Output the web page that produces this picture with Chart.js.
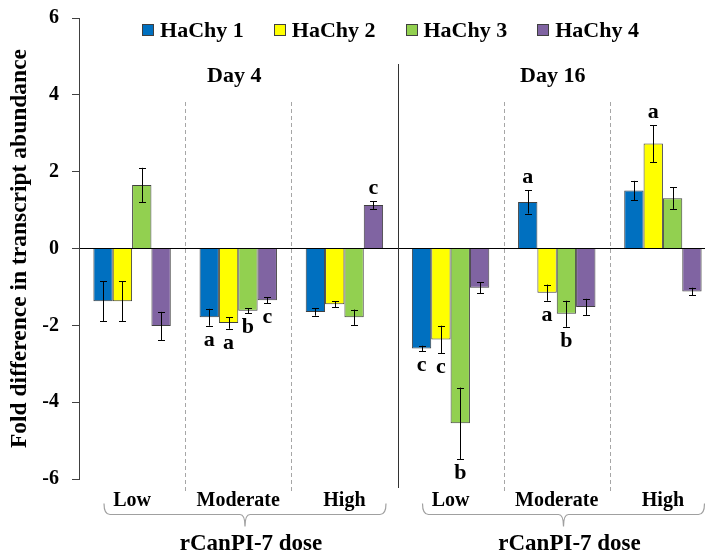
<!DOCTYPE html>
<html>
<head>
<meta charset="utf-8">
<script src="https://cdn.jsdelivr.net/npm/chart.js@4/dist/chart.umd.min.js"></script>
<style>
  html, body { margin: 0; padding: 0; background: #fff; overflow: hidden; }
  #wrap { width: 705px; height: 554px; overflow: hidden; }
  #chart { display: block; margin-top: -7px; }
</style>
</head>
<body>
<div id="wrap"><canvas id="chart" width="720" height="561"></canvas></div>
<script>
const categories = ["Low", "Moderate", "High", "Low", "Moderate", "High"];
const dayLabels = ["Day 4", "Day 16"];
const doseLabel = "rCanPI-7 dose";
const seriesNames = ["HaChy 1", "HaChy 2", "HaChy 3", "HaChy 4"];
const yTicks = [-6, -4, -2, 0, 2, 4, 6];

const hachy1 = [-1.37, -1.79, -1.65, -2.60, 1.21, 1.51];
const hachy2 = [-1.37, -1.94, -1.45, -2.37, -1.15, 2.73];
const hachy3 = [1.65, -1.62, -1.79, -4.55, -1.70, 1.31];
const hachy4 = [-2.02, -1.35, 1.13, -1.02, -1.52, -1.12];

const hachy1Err = [0.52, 0.22, 0.10, 0.07, 0.30, 0.25];
const hachy2Err = [0.52, 0.15, 0.08, 0.36, 0.21, 0.48];
const hachy3Err = [0.45, 0.07, 0.20, 0.93, 0.34, 0.28];
const hachy4Err = [0.37, 0.08, 0.10, 0.14, 0.21, 0.10];

const hachy1Letters = ["", "a", "", "c", "a", ""];
const hachy2Letters = ["", "a", "", "c", "a", "a"];
const hachy3Letters = ["", "b", "", "b", "b", ""];
const hachy4Letters = ["", "c", "c", "", "", ""];

const values = [hachy1, hachy2, hachy3, hachy4];
const errors = [hachy1Err, hachy2Err, hachy3Err, hachy4Err];
const letters = [hachy1Letters, hachy2Letters, hachy3Letters, hachy4Letters];
const colors = ["#0070C0", "#FFFF00", "#92D050", "#8064A2"];

const SERIF = "'Liberation Serif', 'Times New Roman', serif";

function font(size) {
  return "bold " + size + "px " + SERIF;
}

function crisp(v) {
  return Math.round(v) + 0.5;
}

const decorPlugin = {
  id: "decor",
  beforeDatasetsDraw(chart) {
    const { ctx, chartArea, scales } = chart;
    const x = scales.x;
    ctx.save();
    ctx.lineWidth = 1;
    for (let i = 1; i < categories.length; i++) {
      const xp = crisp((x.getPixelForValue(i - 1) + x.getPixelForValue(i)) / 2);
      ctx.beginPath();
      if (i === 3) {
        ctx.setLineDash([]);
        ctx.strokeStyle = "#333333";
        ctx.moveTo(xp, chartArea.top + 46);
        ctx.lineTo(xp, chartArea.bottom + 9);
      } else {
        ctx.setLineDash([4, 3]);
        ctx.strokeStyle = "#a6a6a6";
        ctx.moveTo(xp, chartArea.top + 84);
        ctx.lineTo(xp, chartArea.bottom + 13);
      }
      ctx.stroke();
    }
    ctx.restore();
  },
  afterDatasetsDraw(chart) {
    const { ctx, scales } = chart;
    const y = scales.y;
    ctx.save();
    ctx.strokeStyle = "#000";
    ctx.lineWidth = 1;
    ctx.fillStyle = "#000";
    ctx.font = font(22);
    ctx.textAlign = "center";
    ctx.textBaseline = "alphabetic";
    for (let d = 0; d < values.length; d++) {
      const meta = chart.getDatasetMeta(d);
      meta.data.forEach(function(bar, j) {
        const v = values[d][j];
        const e = errors[d][j];
        const xp = crisp(bar.x);
        const yTop = y.getPixelForValue(v + e);
        const yBot = y.getPixelForValue(v - e);
        ctx.beginPath();
        ctx.moveTo(xp, yTop);
        ctx.lineTo(xp, yBot);
        ctx.moveTo(xp - 3.5, crisp(yTop));
        ctx.lineTo(xp + 3.5, crisp(yTop));
        ctx.moveTo(xp - 3.5, crisp(yBot));
        ctx.lineTo(xp + 3.5, crisp(yBot));
        ctx.stroke();
        const letter = letters[d][j];
        if (letter) {
          const ty = v >= 0 ? yTop - 7 : yBot + 20;
          ctx.fillText(letter, bar.x, ty);
        }
      });
    }
    ctx.restore();
  },
  afterDraw(chart) {
    const { ctx, chartArea, scales } = chart;
    const x = scales.x;
    ctx.save();

    // legend
    ctx.font = font(22);
    const widths = seriesNames.map(function(n) { return ctx.measureText(n).width; });
    const box = 11, boxGap = 7, itemGap = 30;
    let total = itemGap * (seriesNames.length - 1);
    widths.forEach(function(w) { total += box + boxGap + w; });
    let lx = (chartArea.left + chartArea.right) / 2 - 7 - total / 2;
    ctx.textAlign = "left";
    ctx.textBaseline = "alphabetic";
    seriesNames.forEach(function(name, i) {
      const bx = Math.round(lx) + 0.5;
      const by = chartArea.top + 6.5;
      ctx.fillStyle = colors[i];
      ctx.fillRect(bx, by, box, box);
      ctx.strokeStyle = "#404040";
      ctx.lineWidth = 1;
      ctx.strokeRect(bx, by, box, box);
      ctx.fillStyle = "#000";
      ctx.fillText(name, lx + box + boxGap, chartArea.top + 19);
      lx += box + boxGap + widths[i] + itemGap;
    });

    // day labels
    ctx.font = font(22);
    ctx.textAlign = "center";
    dayLabels.forEach(function(label, i) {
      const cx = x.getPixelForValue(i * 3 + 1) - 4;
      ctx.fillText(label, cx, chartArea.top + 64);
    });

    // braces and dose labels
    const half = (x.getPixelForValue(1) - x.getPixelForValue(0)) / 2;
    dayLabels.forEach(function(label, i) {
      const left = x.getPixelForValue(i * 3) - half + 25;
      const right = x.getPixelForValue(i * 3 + 2) + half - 11.5;
      const mid = (left + right) / 2;
      const yb = crisp(chartArea.bottom + 35);
      ctx.beginPath();
      ctx.strokeStyle = "#a0a0a0";
      ctx.lineWidth = 1.2;
      ctx.moveTo(left, yb - 11);
      ctx.quadraticCurveTo(left, yb, left + 6, yb);
      ctx.lineTo(mid - 5, yb);
      ctx.quadraticCurveTo(mid, yb, mid, yb + 12);
      ctx.quadraticCurveTo(mid, yb, mid + 5, yb);
      ctx.lineTo(right - 6, yb);
      ctx.quadraticCurveTo(right, yb, right, yb - 11);
      ctx.stroke();
      ctx.fillStyle = "#000";
      ctx.font = font(23);
      ctx.fillText(doseLabel, mid + 6, chartArea.bottom + 71);
    });

    ctx.restore();
  }
};

new Chart(document.getElementById("chart"), {
  type: "bar",
  data: {
    labels: categories,
    datasets: seriesNames.map(function(name, i) {
      return {
        label: name,
        data: values[i],
        backgroundColor: colors[i],
        borderColor: "#404040",
        borderWidth: 1,
        barPercentage: 1.0,
        categoryPercentage: 0.729
      };
    })
  },
  options: {
    responsive: false,
    animation: false,
    layout: { padding: { top: 9, right: 4, left: 0, bottom: 0 } },
    plugins: {
      legend: { display: false },
      tooltip: { enabled: false }
    },
    scales: {
      x: {
        grid: { display: false, drawTicks: false },
        border: { display: false },
        ticks: { color: "#000", font: { family: SERIF, size: 20, weight: "bold" }, padding: 10, maxRotation: 0 },
        afterFit: function(scale) { scale.height = 75; }
      },
      y: {
        min: yTicks[0],
        max: yTicks[yTicks.length - 1],
        ticks: {
          stepSize: yTicks[1] - yTicks[0],
          color: "#000",
          font: { family: SERIF, size: 20, weight: "bold" },
          padding: 13
        },
        grid: {
          color: function(c) { return c.tick && c.tick.value === 0 ? "#000" : "transparent"; },
          tickColor: "#404040",
          tickLength: 7,
          lineWidth: 1
        },
        border: { color: "#404040", width: 1 },
        title: {
          display: true,
          text: "Fold difference in transcript abundance",
          color: "#000",
          font: { family: SERIF, size: 23.5, weight: "bold" },
          padding: { top: 6, bottom: 0 }
        },
        afterFit: function(scale) { scale.width = 79; }
      }
    }
  },
  plugins: [decorPlugin]
});
</script>
</body>
</html>
